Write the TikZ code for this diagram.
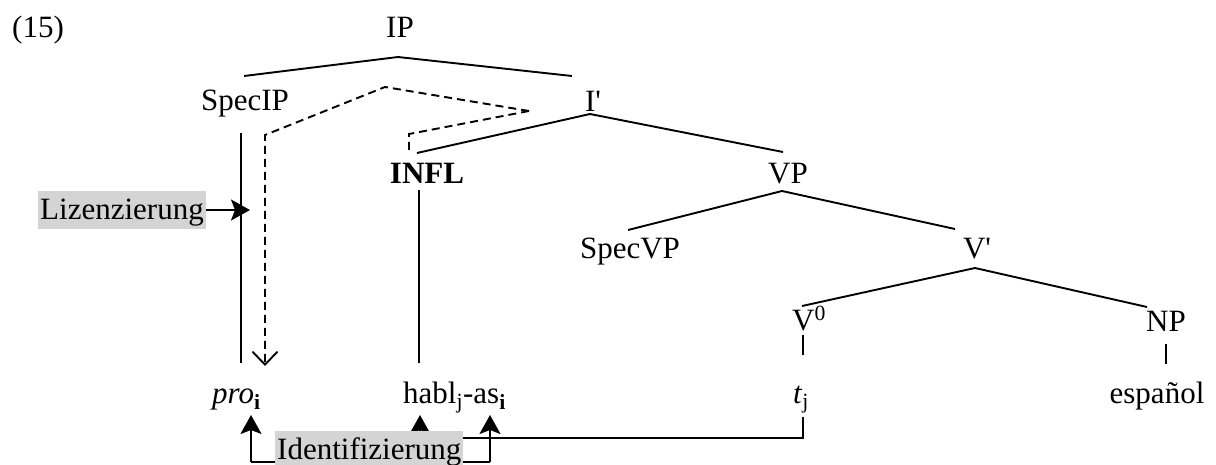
\documentclass[tikz,border=0pt]{standalone}
\usepackage{fontspec}
\setmainfont{Liberation Serif}[Ligatures=TeXOff]
\usetikzlibrary{arrows.meta}
\definecolor{notegray}{RGB}{212,212,212}
\begin{document}
\begin{tikzpicture}[x=1pt,y=-1pt,
  lbl/.style={anchor=base,inner sep=0pt,font=\fontsize{31pt}{37pt}\selectfont},
  lblw/.style={lbl,anchor=base west},
  branch/.style={line width=1.9pt},
  trace/.style={line width=1.9pt,dash pattern=on 8pt off 5pt},
  solidtip/.style={-{Stealth[length=19pt,width=21pt,inset=4pt]}},
  opentip/.style={-{Straight Barb[length=13pt,width=25pt]}},
  note/.style={lbl,fill=notegray,inner xsep=2pt,inner ysep=1pt,text height=27pt,text depth=9pt}]
\useasboundingbox (0,0) rectangle (1216,464);
\clip (0,0) rectangle (1216,464);

% example number
\node[lblw] (num) at (12,37) {(15)};

% tree labels
\node[lbl] (IP) at (400,37) {IP};
\node[lbl] (SpecIP) at (245,110) {SpecIP};
\node[lbl] (Ibar) at (593,111) {I'};
\node[lbl,font=\fontsize{31pt}{37pt}\selectfont\bfseries] (INFL) at (427,183) {INFL};
\node[lbl] (VP) at (788,183) {VP};
\node[lbl] (SpecVP) at (630,258) {SpecVP};
\node[lbl] (Vbar) at (977,258) {V'};
\node[lblw] (V0) at (792,330) {V\textsuperscript{0}};
\node[lbl] (NP) at (1166,331) {NP};

% terminal string
\node[lblw] (pro) at (212,403) {\textit{pro}\textsubscript{\textbf{i}}};
\node[lblw] (habl) at (403,403) {habl\textsubscript{j}-as\textsubscript{\textbf{i}}};
\node[lblw] (tj) at (793,403) {\textit{t}\textsubscript{j}};
\node[lbl] (esp) at (1157,403) {español};

% attachment points of the branches
\coordinate (IPb) at (398,57);
\coordinate (SpecIPt) at (244,76);
\coordinate (Ibart) at (572,76);
\coordinate (Ibarb) at (590,114);
\coordinate (INFLt) at (417,153);
\coordinate (VPt) at (783,152);
\coordinate (VPb) at (782,191);
\coordinate (SpecVPt) at (628,230);
\coordinate (Vbart) at (955,229);
\coordinate (Vbarb) at (975,268);
\coordinate (V0t) at (802,306);
\coordinate (NPt) at (1147,307);

% tree branches
\draw[branch] (SpecIPt) -- (IPb) -- (Ibart);
\draw[branch] (INFLt) -- (Ibarb) -- (VPt);
\draw[branch] (SpecVPt) -- (VPb) -- (Vbart);
\draw[branch] (V0t) -- (Vbarb) -- (NPt);

% vertical projection lines
\coordinate (SpecIPb) at (241,133);
\coordinate (proT) at (241,363);
\coordinate (INFLb) at (419,190);
\coordinate (hablT) at (419,363);
\coordinate (V0b) at (803,335);
\coordinate (tjT) at (803,355);
\coordinate (NPb) at (1166,344);
\coordinate (espT) at (1166,364);
\draw[branch] (SpecIPb) -- (proT);
\draw[branch] (INFLb) -- (hablT);
\draw[branch] (V0b) -- (tjT);
\draw[branch] (NPb) -- (espT);

% dashed agreement path from I' to SpecIP and INFL
\coordinate (dsrc) at (529,111);
\coordinate (dpeak) at (385,87);
\coordinate (dknee) at (265,135);
\coordinate (dend) at (265,366);
\coordinate (dinfl) at (409,134);
\coordinate (dinflb) at (409,153);
\draw[trace,opentip] (dsrc) -- (dpeak) -- (dknee) -- (dend);
\draw[trace] (dsrc) -- (dinfl) -- (dinflb);

% licensing
\node[note,anchor=base west] (Liz) at (38,219) {Lizenzierung};
\coordinate (lizTip) at (250,210);
\draw[branch,solidtip] (Liz.east) -- (lizTip);

% movement of the verb: t_j to habl
\coordinate (tjFoot) at (803,417);
\coordinate (tjCorner) at (803,438);
\coordinate (hablCorner) at (420,438);
\coordinate (hablTip) at (420,415);
\draw[branch,solidtip] (tjFoot) -- (tjCorner) -- (hablCorner) -- (hablTip);

% identification
\coordinate (idL) at (251,462);
\coordinate (idR) at (490,462);
\coordinate (proTip) at (251,415);
\coordinate (asTip) at (490,415);
\draw[branch] (idL) -- (idR);
\draw[branch,solidtip] (idL) -- (proTip);
\draw[branch,solidtip] (idR) -- (asTip);
\node[note,anchor=base west] (Ident) at (275,459) {Identifizierung};
\end{tikzpicture}
\end{document}
